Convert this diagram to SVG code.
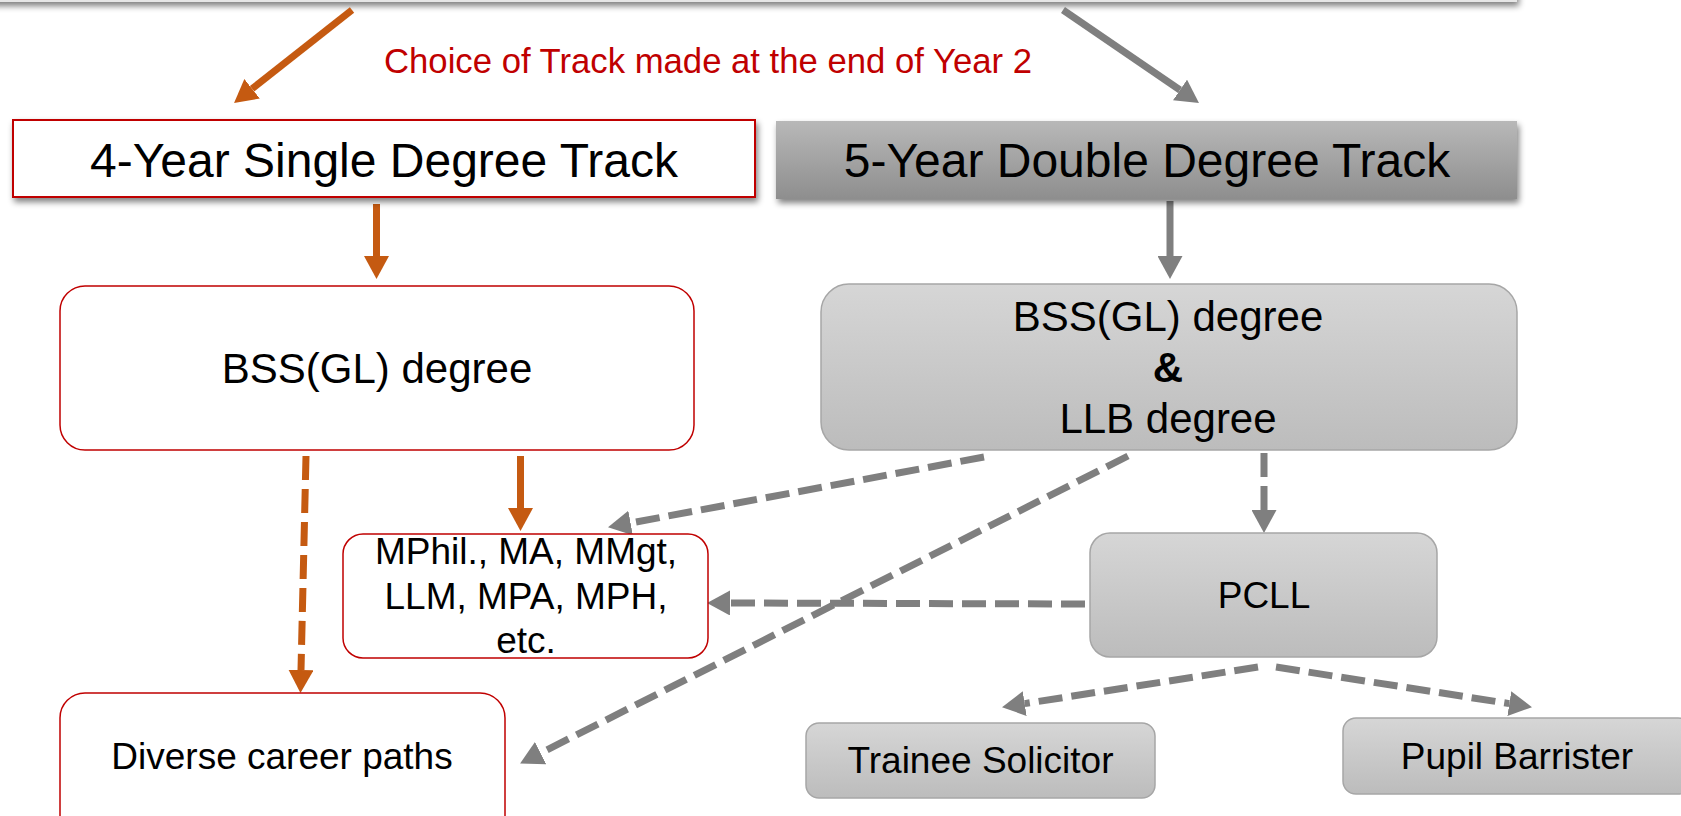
<svg xmlns="http://www.w3.org/2000/svg" width="1681" height="816" viewBox="0 0 1681 816">
<style>
text{font-family:"Liberation Sans",Arial,sans-serif;fill:#000;text-anchor:middle}
.hdr{font-size:48px}
.big{font-size:42px}
.sm{font-size:37px}
.redbox{fill:#fff;stroke:#c00000;stroke-width:1.5}
.graybox{fill:url(#lg);stroke:#a6a6a6;stroke-width:1.5}
.or{stroke:#c55a11;stroke-width:7;fill:none}
.gr{stroke:#7f7f7f;stroke-width:7;fill:none}
.dash{stroke-dasharray:24 9}
</style>
<defs>
<linearGradient id="lg" x1="0" y1="0" x2="0" y2="1"><stop offset="0" stop-color="#d6d6d6"/><stop offset="1" stop-color="#bcbcbc"/></linearGradient>
<linearGradient id="dg" x1="0" y1="0" x2="0" y2="1"><stop offset="0" stop-color="#b8b8b8"/><stop offset="1" stop-color="#8e8e8e"/></linearGradient>
<filter id="sh" x="-5%" y="-30%" width="110%" height="170%"><feGaussianBlur in="SourceAlpha" stdDeviation="3"/><feOffset dx="2" dy="4"/><feComponentTransfer><feFuncA type="linear" slope="0.5"/></feComponentTransfer><feMerge><feMergeNode/><feMergeNode in="SourceGraphic"/></feMerge></filter>
<marker id="ao" markerUnits="userSpaceOnUse" viewBox="0 0 23 25" refX="0" refY="12.5" markerWidth="23" markerHeight="25" orient="auto"><path d="M0,0 L23,12.5 L0,25 z" fill="#c55a11"/></marker>
<marker id="ag" markerUnits="userSpaceOnUse" viewBox="0 0 23 25" refX="0" refY="12.5" markerWidth="23" markerHeight="25" orient="auto"><path d="M0,0 L23,12.5 L0,25 z" fill="#7f7f7f"/></marker>
</defs>
<rect width="1681" height="816" fill="#fff"/>
<g id="topbar"><rect x="-20" y="-60" width="1537" height="62" fill="#e6e6e6" filter="url(#sh)"/></g>
<text x="708" y="73" style="font-size:34.7px;fill:#c00000">Choice of Track made at the end of Year 2</text>
<g id="connectors">
<path class="or" d="M352,10 L252.1,88.8" marker-end="url(#ao)"/>
<path class="gr" d="M1063,10 L1180,90" marker-end="url(#ag)"/>
<path class="or" d="M376.5,204 L376.5,256" marker-end="url(#ao)"/>
<path class="gr" d="M1170,201 L1170,256" marker-end="url(#ag)"/>
<path class="or" d="M520.5,456 L520.5,508" marker-end="url(#ao)"/>
<path class="or dash" d="M306,456 L301,670" marker-end="url(#ao)"/>
<path class="gr dash" d="M984,457 L630.6,523" marker-end="url(#ag)"/>
<path class="gr dash" d="M1128,456 L540.6,753.1" marker-end="url(#ag)"/>
<path class="gr dash" d="M1264,453 L1264,510" marker-end="url(#ag)"/>
<path class="gr dash" d="M1085,604 L730,603" marker-end="url(#ag)"/>
<path class="gr dash" d="M1258,667 L1024.7,703.6" marker-end="url(#ag)"/>
<path class="gr dash" d="M1276,667 L1509.3,703.6" marker-end="url(#ag)"/>
</g>
<g id="n4year"><rect x="13" y="120" width="742" height="77" fill="#fff" stroke="#c00000" stroke-width="2" filter="url(#sh)"/><text class="hdr" x="384" y="177">4-Year Single Degree Track</text></g>
<g id="n5year"><rect x="776" y="121" width="741" height="78" fill="url(#dg)" filter="url(#sh)"/><text class="hdr" x="1147" y="177">5-Year Double Degree Track</text></g>
<g id="nbssL"><rect class="redbox" x="60" y="286" width="634" height="164" rx="25"/><text class="big" x="377" y="383">BSS(GL) degree</text></g>
<g id="nbssR"><rect class="graybox" x="821" y="284" width="696" height="166" rx="28"/><text class="big" x="1168" y="331">BSS(GL) degree</text><text class="big" x="1168" y="382" font-weight="bold">&amp;</text><text class="big" x="1168" y="433">LLB degree</text></g>
<g id="nmphil"><rect class="redbox" x="343" y="534" width="365" height="124" rx="20"/><text class="sm" x="526" y="564">MPhil., MA, MMgt,</text><text class="sm" x="526" y="609">LLM, MPA, MPH,</text><text class="sm" x="526" y="653">etc.</text></g>
<g id="ndiverse"><rect class="redbox" x="60" y="693" width="445" height="150" rx="25"/><text class="sm" x="282" y="769">Diverse career paths</text></g>
<g id="npcll"><rect class="graybox" x="1090" y="533" width="347" height="124" rx="20"/><text class="sm" x="1264" y="608">PCLL</text></g>
<g id="ntrainee"><rect class="graybox" x="806" y="723" width="349" height="75" rx="13"/><text class="sm" x="980.5" y="773">Trainee Solicitor</text></g>
<g id="npupil"><rect class="graybox" x="1343" y="718" width="348" height="76" rx="13"/><text class="sm" x="1517" y="769">Pupil Barrister</text></g>
</svg>
